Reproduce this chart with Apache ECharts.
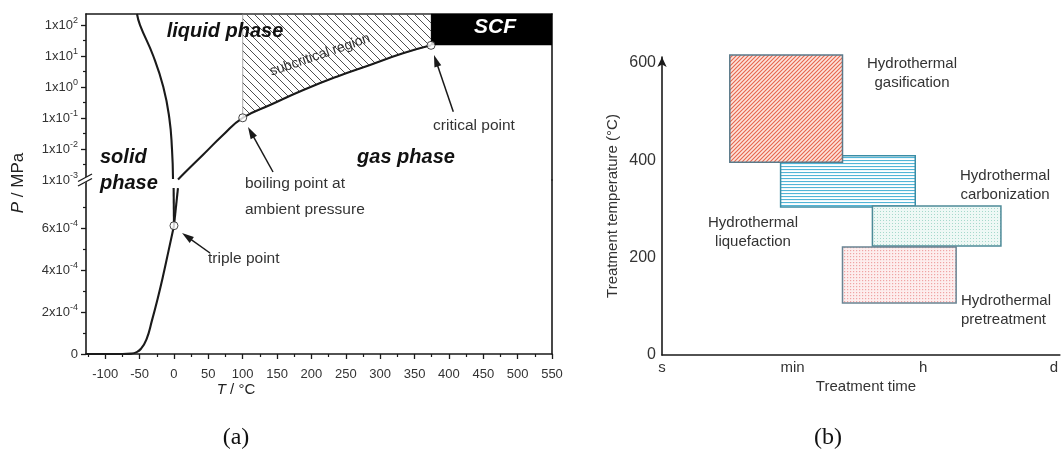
<!DOCTYPE html>
<html>
<head>
<meta charset="utf-8">
<script src="https://cdn.jsdelivr.net/npm/echarts@6/dist/echarts.min.js"></script>
<style>
  html, body { margin: 0; padding: 0; background: #fff; }
  #chart { width: 1061px; height: 473px; }
</style>
</head>
<body>
<div id="chart"></div>
<script>
// ---------- (a) phase diagram of water: T in °C, P in MPa ----------
const tempTicks = [-100, -50, 0, 50, 100, 150, 200, 250, 300, 350, 400, 450, 500, 550];
const tempMinorTicks = [-125, -75, -25, 25, 75, 125, 175, 225, 275, 325, 375, 425, 475, 525];
const logTicks = [1e-3, 1e-2, 1e-1, 1, 10, 100];
const logMinorTicks = [0.00316, 0.0316, 0.316, 3.16, 31.6];
const linTicks = [0, 2e-4, 4e-4, 6e-4];
const linMinorTicks = [1e-4, 3e-4, 5e-4, 7e-4];

// melting curve, upper (logarithmic) section
const meltTempLog = [-53.8, -49.4, -30.1, -15.5, -6.8, -2.9, -1.4];
const meltPresLog = [226.5, 100, 10, 1, 0.1, 0.01, 0.00108];
// melting curve, lower (linear) section
const meltTempLin = [0.01, -0.5];
const meltPresLin = [6.11e-4, 7.9e-4];
// vapour-pressure curve, upper section (ends at the critical point)
const vapTempLog = [5.9, 23.3, 42.7, 70.6, 100, 139.7, 188.2, 236.8, 285.2, 333.2, 374];
const vapPresLog = [0.00104, 0.00253, 0.00665, 0.0272, 0.1014, 0.262, 0.80, 2.15, 5.13, 12.2, 22.06];
// vapour-pressure curve, lower section
const vapTempLin = [0.01, 5.8];
const vapPresLin = [6.11e-4, 7.9e-4];
// sublimation curve
const sublTemp = [-128, -75, -62, -55, -48, -40, -32, -24, -16, -8, 0.01];
const sublPres = [0, 0, 2e-6, 8e-6, 2.5e-5, 7e-5, 1.6e-4, 2.6e-4, 3.7e-4, 4.9e-4, 6.11e-4];

const triplePoint = [0.01, 6.11e-4];
const boilingPoint = [100, 0.1014];
const criticalPoint = [374, 22.06];

// annotation arrows: [tailT, tailP, tipT, tipP]
const arrowsLog = [[144.1, 1.81e-3, 107.7, 0.0513], [406.4, 0.16, 378.3, 10.8]];
const arrowsLin = [[52.4, 4.81e-4, 11.7, 5.76e-4]];

// axis ranges
const T_MIN = -128, T_MAX = 550;
const P_LOG_MIN = 0.000999, P_LOG_MAX = 226.5;
const P_LIN_MAX = 8.286e-4;

// ---------- (b) hydrothermal processes ----------
const timeLabels = ['s', 'min', 'h', 'd'];
const timeTicks = [0, 1, 2, 3];
const tempTicksB = [0, 200, 400, 600];
// drawn in this order (later ones on top)
const processNames = ['liquefaction', 'carbonization', 'pretreatment', 'gasification'];
const timeStart = [0.908, 1.611, 1.382, 0.519];
const timeEnd = [1.939, 2.595, 2.252, 1.382];
const tempLow = [304, 224, 107, 396];
const tempHigh = [409, 306, 222, 616];

const FONT = '"Liberation Sans", Arial, Helvetica, sans-serif';
const SERIF = '"Liberation Serif", "Times New Roman", serif';
const INK = '#1a1a1a';

function pattern(size, bg, draw) {
  const c = document.createElement('canvas');
  c.width = c.height = size;
  const g = c.getContext('2d');
  if (bg) { g.fillStyle = bg; g.fillRect(0, 0, size, size); }
  draw(g, size);
  return { image: c, repeat: 'repeat' };
}
function diag(g, s, back) {
  g.beginPath();
  if (back) {
    g.moveTo(0, 0); g.lineTo(s, s);
    g.moveTo(-2, s - 2); g.lineTo(2, s + 2);
    g.moveTo(s - 2, -2); g.lineTo(s + 2, 2);
  } else {
    g.moveTo(0, s); g.lineTo(s, 0);
    g.moveTo(-2, 2); g.lineTo(2, -2);
    g.moveTo(s - 2, s + 2); g.lineTo(s + 2, s - 2);
  }
  g.stroke();
}
const subcritFill = pattern(8, null, (g, s) => { g.strokeStyle = '#3a3a3a'; g.lineWidth = 0.9; diag(g, s, true); });
const procFill = {
  gasification: pattern(4, '#fde4dc', (g, s) => { g.strokeStyle = '#e6654c'; g.lineWidth = 1.1; diag(g, s, false); }),
  liquefaction: pattern(3, '#ffffff', (g, s) => { g.fillStyle = '#52b5d7'; g.fillRect(0, 1, s, 1.1); }),
  carbonization: pattern(3, '#eef8f5', (g) => { g.fillStyle = '#a6d9cc'; g.fillRect(1, 1, 1, 1); }),
  pretreatment: pattern(3, '#fdeeee', (g) => { g.fillStyle = '#f0a4a4'; g.fillRect(1, 1, 1.2, 1.2); })
};
const procStroke = {
  gasification: '#5a7a8a', liquefaction: '#3a8da5', carbonization: '#4e8a98', pretreatment: '#6a8493'
};

const zip = (a, b) => a.map((v, i) => [v, b[i]]);

function supLabel(v, base) {
  return `${base}x10{e|${Math.round(Math.log10(v / base))}}`;
}

const tickLabelStyle = {
  color: '#333', fontFamily: FONT, fontSize: 13, lineHeight: 18,
  rich: { e: { fontSize: 9, lineHeight: 18, verticalAlign: 'top', color: '#333', fontFamily: FONT } }
};
const frameLine = { show: true, onZero: false, lineStyle: { color: INK, width: 1.6 } };
const noLine = { show: false, onZero: false };

function arrowRender(params, api) {
  const a = api.coord([api.value(0), api.value(1)]);
  const b = api.coord([api.value(2), api.value(3)]);
  const dx = b[0] - a[0], dy = b[1] - a[1];
  const L = Math.hypot(dx, dy), ux = dx / L, uy = dy / L;
  const hl = 12, hw = 3.6;
  const base = [b[0] - ux * hl, b[1] - uy * hl];
  return {
    type: 'group',
    children: [
      { type: 'line', shape: { x1: a[0], y1: a[1], x2: base[0] + ux * 2, y2: base[1] + uy * 2 },
        style: { stroke: INK, lineWidth: 1.5 } },
      { type: 'polygon', shape: { points: [b, [base[0] - uy * hw, base[1] + ux * hw], [base[0] + uy * hw, base[1] - ux * hw]] },
        style: { fill: INK } }
    ]
  };
}

const subcritPoly = [[boilingPoint[0], P_LOG_MAX]]
  .concat(zip(vapTempLog, vapPresLog).filter(p => p[0] >= boilingPoint[0]))
  .concat([[criticalPoint[0], P_LOG_MAX]]);

const curveStyle = { color: INK, width: 2.1 };
function curve(data, xi, yi) {
  return { type: 'line', xAxisIndex: xi, yAxisIndex: yi, data, symbol: 'none', smooth: 0.5,
    lineStyle: curveStyle, z: 4, silent: true };
}

function txt(x, y, text, opts) {
  const o = opts || {};
  return {
    type: 'text', x, y, rotation: o.rotation || 0, z: 50,
    style: Object.assign({
      text, fill: o.fill || '#333', fontFamily: FONT, fontSize: o.size || 15,
      fontWeight: o.weight || 'normal', fontStyle: o.style || 'normal',
      align: o.align || 'center', verticalAlign: 'middle', lineHeight: o.lineHeight
    }, o.extra || {})
  };
}

const chart = echarts.init(document.getElementById('chart'), null, { renderer: 'canvas' });
chart.setOption({
  animation: false,
  backgroundColor: '#fff',
  grid: [
    { left: 86, top: 14, width: 466, height: 166 },
    { left: 86, top: 180, width: 466, height: 174 },
    { left: 662, top: 57, width: 399, height: 298 }
  ],
  xAxis: [
    { gridIndex: 0, type: 'value', min: T_MIN, max: T_MAX, position: 'top', axisLine: frameLine,
      axisTick: { show: false }, axisLabel: { show: false }, splitLine: { show: false } },
    { gridIndex: 1, type: 'value', min: T_MIN, max: T_MAX, position: 'bottom', axisLine: frameLine,
      axisTick: { show: true, inside: false, length: 5, customValues: tempTicks, lineStyle: { color: INK, width: 1.3 } },
      axisLabel: Object.assign({ customValues: tempTicks, margin: 11 }, tickLabelStyle),
      splitLine: { show: false } },
    { gridIndex: 1, type: 'value', min: T_MIN, max: T_MAX, position: 'bottom', axisLine: noLine,
      axisTick: { show: true, length: 3, customValues: tempMinorTicks, lineStyle: { color: INK, width: 1.2 } },
      axisLabel: { show: false }, splitLine: { show: false } },
    { gridIndex: 2, type: 'value', min: 0, max: 3.046, position: 'bottom', axisLine: frameLine,
      axisTick: { show: false },
      axisLabel: { customValues: timeTicks, formatter: v => timeLabels[Math.round(v)], margin: 5,
        color: '#333', fontFamily: FONT, fontSize: 15 },
      splitLine: { show: false } }
  ],
  yAxis: [
    { gridIndex: 0, type: 'log', logBase: 10, min: P_LOG_MIN, max: P_LOG_MAX, position: 'left', axisLine: frameLine,
      axisTick: { show: true, length: 5, customValues: logTicks, lineStyle: { color: INK, width: 1.3 } },
      axisLabel: Object.assign({ customValues: logTicks, margin: 8, formatter: v => supLabel(v, 1) }, tickLabelStyle),
      splitLine: { show: false } },
    { gridIndex: 0, type: 'log', logBase: 10, min: P_LOG_MIN, max: P_LOG_MAX, position: 'left', axisLine: noLine,
      axisTick: { show: true, length: 3, customValues: logMinorTicks, lineStyle: { color: INK, width: 1.2 } },
      axisLabel: { show: false }, splitLine: { show: false } },
    { gridIndex: 0, type: 'log', logBase: 10, min: P_LOG_MIN, max: P_LOG_MAX, position: 'right', axisLine: frameLine,
      axisTick: { show: false }, axisLabel: { show: false }, splitLine: { show: false } },
    { gridIndex: 1, type: 'value', min: 0, max: P_LIN_MAX, position: 'left', axisLine: frameLine,
      axisTick: { show: true, length: 5, customValues: linTicks, lineStyle: { color: INK, width: 1.3 } },
      axisLabel: Object.assign({ customValues: linTicks, margin: 8,
        formatter: v => (v === 0 ? '0' : `${Math.round(v / 1e-4)}x10{e|-4}`) }, tickLabelStyle),
      splitLine: { show: false } },
    { gridIndex: 1, type: 'value', min: 0, max: P_LIN_MAX, position: 'left', axisLine: noLine,
      axisTick: { show: true, length: 3, customValues: linMinorTicks, lineStyle: { color: INK, width: 1.2 } },
      axisLabel: { show: false }, splitLine: { show: false } },
    { gridIndex: 1, type: 'value', min: 0, max: P_LIN_MAX, position: 'right', axisLine: frameLine,
      axisTick: { show: false }, axisLabel: { show: false }, splitLine: { show: false } },
    { gridIndex: 2, type: 'value', min: 0, max: 612, position: 'left',
      axisLine: { show: true, onZero: false, symbol: ['none', 'arrow'], symbolSize: [7, 10], lineStyle: { color: INK, width: 1.6 } },
      axisTick: { show: false },
      axisLabel: { customValues: tempTicksB, margin: 6, color: '#333', fontFamily: FONT, fontSize: 16 },
      splitLine: { show: false } }
  ],
  series: [
    // hatched subcritical region between the boiling and critical temperatures
    { type: 'custom', xAxisIndex: 0, yAxisIndex: 0, z: 1, silent: true, data: [[0, 1]],
      renderItem: (params, api) => ({
        type: 'polygon',
        shape: { points: subcritPoly.map(p => api.coord(p)) },
        style: { fill: subcritFill, stroke: '#888', lineWidth: 0.7 }
      }) },
    // supercritical fluid block
    { type: 'custom', xAxisIndex: 0, yAxisIndex: 0, z: 2, silent: true,
      encode: { x: [0, 1], y: [2, 3] },
      data: [[criticalPoint[0], T_MAX, criticalPoint[1], P_LOG_MAX]],
      renderItem: (params, api) => {
        const p0 = api.coord([api.value(0), api.value(3)]);
        const p1 = api.coord([api.value(1), api.value(2)]);
        return { type: 'rect', shape: { x: p0[0], y: p0[1], width: p1[0] - p0[0], height: p1[1] - p0[1] },
          style: { fill: '#000' } };
      } },
    curve(zip(meltTempLog, meltPresLog), 0, 0),
    curve(zip(vapTempLog, vapPresLog), 0, 0),
    curve(zip(meltTempLin, meltPresLin), 1, 3),
    curve(zip(vapTempLin, vapPresLin), 1, 3),
    curve(zip(sublTemp, sublPres), 1, 3),
    { type: 'custom', xAxisIndex: 0, yAxisIndex: 0, z: 6, silent: true, encode: { x: [0, 2], y: [1, 3] },
      data: arrowsLog, renderItem: arrowRender },
    { type: 'custom', xAxisIndex: 1, yAxisIndex: 3, z: 6, silent: true, encode: { x: [0, 2], y: [1, 3] },
      data: arrowsLin, renderItem: arrowRender },
    { type: 'scatter', xAxisIndex: 0, yAxisIndex: 0, z: 8, silent: true, symbol: 'circle', symbolSize: 8,
      data: [boilingPoint, criticalPoint], itemStyle: { color: '#fff', borderColor: INK, borderWidth: 1 } },
    { type: 'scatter', xAxisIndex: 1, yAxisIndex: 3, z: 8, silent: true, symbol: 'circle', symbolSize: 8,
      data: [triplePoint], itemStyle: { color: '#fff', borderColor: INK, borderWidth: 1 } },
    // (b) process windows
    { type: 'custom', xAxisIndex: 3, yAxisIndex: 6, z: 3, silent: true, encode: { x: [0, 1], y: [2, 3] },
      data: processNames.map((n, i) => [timeStart[i], timeEnd[i], tempLow[i], tempHigh[i]]),
      renderItem: (params, api) => {
        const name = processNames[params.dataIndex];
        const p0 = api.coord([api.value(0), api.value(3)]);
        const p1 = api.coord([api.value(1), api.value(2)]);
        return { type: 'rect', shape: { x: p0[0], y: p0[1], width: p1[0] - p0[0], height: p1[1] - p0[1] },
          style: { fill: procFill[name], stroke: procStroke[name], lineWidth: 1.5 } };
      } }
  ],
  graphic: [
    // axis break mark
    { type: 'polygon', z: 40, shape: { points: [[79, 181], [92, 174], [92, 179], [79, 186]] }, style: { fill: '#fff' } },
    { type: 'line', z: 41, shape: { x1: 78, y1: 181.5, x2: 92, y2: 174 }, style: { stroke: INK, lineWidth: 1.3 } },
    { type: 'line', z: 41, shape: { x1: 78, y1: 186, x2: 92, y2: 178.5 }, style: { stroke: INK, lineWidth: 1.3 } },
    // (a) region names
    txt(225, 31, 'liquid phase', { size: 20, weight: 'bold', style: 'italic', fill: '#111' }),
    txt(100, 157, 'solid', { size: 20, weight: 'bold', style: 'italic', fill: '#111', align: 'left' }),
    txt(100, 183, 'phase', { size: 20, weight: 'bold', style: 'italic', fill: '#111', align: 'left' }),
    txt(406, 157, 'gas phase', { size: 20, weight: 'bold', style: 'italic', fill: '#111' }),
    txt(495, 27, 'SCF', { size: 21, weight: 'bold', style: 'italic', fill: '#fff' }),
    txt(320, 55, 'subcritical region', { size: 14, rotation: 19 * Math.PI / 180, fill: '#333' }),
    txt(474, 126, 'critical point', { size: 15.5 }),
    txt(245, 184, 'boiling point at', { size: 15.5, align: 'left' }),
    txt(245, 210, 'ambient pressure', { size: 15.5, align: 'left' }),
    txt(208, 259, 'triple point', { size: 15.5, align: 'left' }),
    txt(18, 183, '{i|P} / MPa', { size: 17, rotation: Math.PI / 2, fill: '#222',
      extra: { rich: { i: { fontStyle: 'italic', fontSize: 17, fontFamily: FONT, fill: '#222' } } } }),
    txt(236, 390, '{i|T} / °C', { size: 15, fill: '#222',
      extra: { rich: { i: { fontStyle: 'italic', fontSize: 15, fontFamily: FONT, fill: '#222' } } } }),
    // (b) process names
    txt(912, 73.5, 'Hydrothermal\ngasification', { size: 15, lineHeight: 19 }),
    txt(1005, 185, 'Hydrothermal\ncarbonization', { size: 15, lineHeight: 19 }),
    txt(753, 232, 'Hydrothermal\nliquefaction', { size: 15, lineHeight: 19 }),
    txt(961, 310, 'Hydrothermal\npretreatment', { size: 15, lineHeight: 19, align: 'left' }),
    txt(866, 387, 'Treatment time', { size: 15 }),
    txt(613, 206, 'Treatment temperature (°C)', { size: 15, rotation: Math.PI / 2 }),
    // panel captions
    { type: 'text', x: 236, y: 438, z: 50, style: { text: '(a)', fontFamily: SERIF, fontSize: 24, fill: '#111', align: 'center', verticalAlign: 'middle' } },
    { type: 'text', x: 828, y: 438, z: 50, style: { text: '(b)', fontFamily: SERIF, fontSize: 24, fill: '#111', align: 'center', verticalAlign: 'middle' } }
  ]
});
</script>
</body>
</html>
